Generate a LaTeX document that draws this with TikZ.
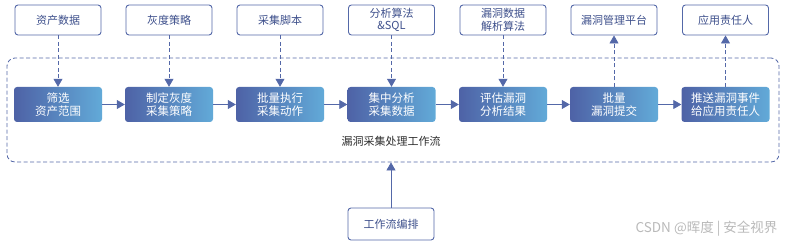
\documentclass[tikz,border=0pt]{standalone}
\usepackage{fontspec}
\setmainfont{Noto Sans CJK SC}
\usetikzlibrary{arrows.meta,positioning}
\definecolor{LineBlue}{RGB}{84,104,168}
\definecolor{TextBlue}{RGB}{62,80,140}
\definecolor{StepDark}{RGB}{78,98,166}
\definecolor{StepLight}{RGB}{98,170,216}
\definecolor{LabelGray}{RGB}{45,45,45}
\definecolor{MarkGray}{RGB}{185,185,185}

\begin{document}
\begin{tikzpicture}[x=1pt,y=-1pt,
    src/.style={draw=LineBlue,fill=white,rounded corners=3pt,line width=0.9pt,
                minimum width=86pt,minimum height=30pt,inner sep=1pt,
                font=\fontsize{11}{12.5}\selectfont,text=TextBlue,align=center},
    stepbox/.style={rounded corners=3pt,left color=StepDark,right color=StepLight,
                minimum width=88pt,minimum height=35pt,inner sep=1pt,
                font=\fontsize{11.5}{13.5}\selectfont,text=white,align=center},
    flow/.style={-{Triangle[length=8pt,width=9pt]},line width=0.8pt,LineBlue},
    feed/.style={flow,dash pattern=on 4pt off 2.5pt}]

    \useasboundingbox (0,0) rectangle (789,243);

    % workflow frame
    \node[draw=LineBlue,dash pattern=on 4pt off 2.5pt,line width=0.8pt,rounded corners=8pt,
          minimum width=772pt,minimum height=104pt] (wf) at (393,110) {};
    \node[font=\fontsize{11}{12.5}\selectfont,text=LabelGray] (wflabel) at (391,141)
      {漏洞采集处理工作流};

    % inputs / outputs
    \node[src] (s1) at (58,20)    {资产数据};
    \node[src] (s2) at (169,20)   {灰度策略};
    \node[src] (s3) at (280,20)   {采集脚本};
    \node[src] (s4) at (391.5,20) {分析算法\\\&SQL};
    \node[src] (s5) at (503,20)   {漏洞数据\\解析算法};
    \node[src] (s6) at (614,20)   {漏洞管理平台};
    \node[src] (s7) at (725.5,20) {应用责任人};

    % steps
    \node[stepbox] (p1) at (58,104.5)    {筛选\\资产范围};
    \node[stepbox] (p2) at (169,104.5)   {制定灰度\\采集策略};
    \node[stepbox] (p3) at (280,104.5)   {批量执行\\采集动作};
    \node[stepbox] (p4) at (391.5,104.5) {集中分析\\采集数据};
    \node[stepbox] (p5) at (503,104.5)   {评估漏洞\\分析结果};
    \node[stepbox] (p6) at (614,104.5)   {批量\\漏洞提交};
    \node[stepbox] (p7) at (725.5,104.5) {推送漏洞事件\\给应用责任人};

    \node[src,minimum height=32pt] (plan) at (391,224) {工作流编排};

    \node[font=\fontsize{13.5}{15}\selectfont,text=MarkGray,anchor=east] (mark) at (781,229)
      {CSDN @晖度 | 安全视界};

    \foreach \x in {1,...,5} { \draw[feed] (s\x)--(p\x); }
    \foreach \x in {6,7} { \draw[feed] (p\x)--(s\x); }
    \foreach \x/\y in {1/2,2/3,3/4,4/5,5/6,6/7} { \draw[flow] (p\x)--(p\y); }
    \draw[flow] (plan)--(plan |- wf.south);
\end{tikzpicture}
\end{document}
